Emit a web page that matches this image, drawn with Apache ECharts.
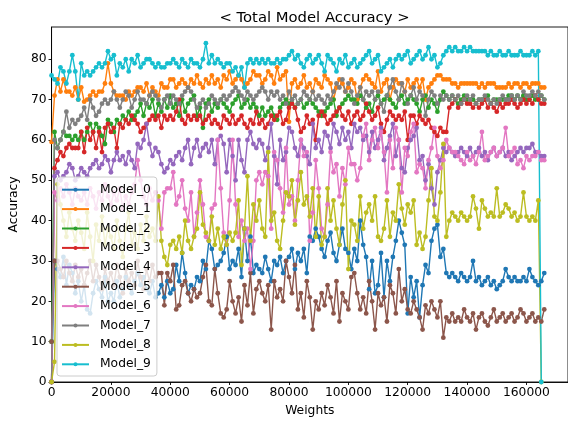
<!DOCTYPE html>
<html>
<head>
<meta charset="utf-8">
<script src="https://cdn.jsdelivr.net/npm/echarts@6/dist/echarts.min.js"></script>
<style>html,body{margin:0;padding:0;background:#fff}#c{width:568px;height:423px}</style>
</head>
<body>
<div id="c"></div>
<script>
const names = ['Model_0','Model_1','Model_2','Model_3','Model_4','Model_5','Model_6','Model_7','Model_8','Model_9'];
const colors = ['#1f77b4','#ff7f0e','#2ca02c','#d62728','#9467bd','#8c564b','#e377c2','#7f7f7f','#bcbd22','#17becf'];
const xTicks = [0,20000,40000,60000,80000,100000,120000,140000,160000];
const yTicks = [0,10,20,30,40,50,60,70,80];
const weightStep = 1000;
const model0 = [
0,30,28,26,31,24,29,27,22,25,
20,24,18,17,22,25,23,21,26,20,
22,20,25,21,23,26,24,22,25,27,
24,26,23,22,25,21,22,24,21,25,
22,23,29,25,32,27,22,24,23,26,
25,30,28,35,33,28,29,30,32,36,
28,30,29,33,26,38,30,36,27,29,
28,27,31,28,25,30,29,31,27,30,
31,33,28,32,30,33,27,36,35,38,
36,33,31,35,37,32,30,34,38,33,
32,28,33,30,40,34,31,23,30,22,
24,32,21,30,25,31,35,40,37,34,
17,26,21,25,16,24,29,27,35,38,
39,31,33,27,26,27,26,25,27,26,
25,26,30,25,26,24,25,26,24,25,
23,24,25,28,26,25,26,25,25,26,
25,28,26,25,24,25,27];
const model1 = [
59.5,71,75,72,75,72,72,71,73,70,
73,69.5,70,71,72,71,72,72,74,79,
74,72,71,71,71,70,72,71,72,73,
73,72,74,71,73,72,71,74,73,73,
75,75,73,74,75,74,73,75,74,76,
74,73,75,74,76,74,75,73,76,75,
77,74,75,76,75,73,74,75,77,76,
76,74,75,77,76,74,78,75,76,77,
64.5,74,75,73,74,76,73,74,72,75,
74,73,76,75,74,70,73,75,74,72,
73,75,74,70,73,75,76,75,74,73,
77,72,74,75,70,73,75,74,74,72,
75,73,74,75,73,75,70,73,74,75,
76,76,75,75,75,74,74,73,74,74,
74,74,74,74,73,74,73,74,74,74,
73,73,73,73,74,73,74,74,73,74,
74,73,74,74,74,73,73];
const model2 = [
10,62,58,60,62,61,61,60,61,60,
62,60,62,64,62,64,63,61,59,65,
64,62,65,64,66,65,67,65,66,67,
69,66,69,68,70,66,69,67,70,68,
71,68,69,66,70,67,69,70,71,66,
68,63,69,70,67,69,68,70,69,68,
67,69,70,71,68,69,70,68,69,68,
66,68,66,67,68,66,65,68,69,70,
69,70,68,69,70,68,69,70,69,68,
67,66,67,68,69,70,66,68,69,70,
71,70,70,69,71,70,68,69,67,70,
71,69,70,71,70,69,68,70,71,69,
70,71,70,69,67,70,71,68,70,69,
67,70,72,71,70,71,70,69,70,71,
70,70,70,69,70,70,70,71,69,70,
70,70,70,70,71,71,70,71,70,71,
70,70,71,70,70,71,70];
const model3 = [
0,53,55,57,56,58,59,58,58,58,
62,57,63,60,62,58,62,57,63,64,
62,63,58,64,63,65,64,66,65,64,
62,63,64,65,66,65,66,63,66,65,
66,65,67,70,65,64,66,65,66,65,
66,64,65,66,64,65,64,63,66,65,
64,66,64,65,66,64,63,65,64,67,
64,65,63,64,66,65,66,67,64,65,
68,69,68,65,62,63,66,64,65,60,
66,67,66,64,65,66,67,68,66,65,
67,64,66,67,65,66,69,67,65,66,
68,64,62,65,67,66,65,66,65,67,
60,66,66,64,66,65,64,65,63,62,
61,63,62,62,68,69,70,68,69,70,
69,69,68,69,68,69,70,68,69,68,
67,69,68,69,69,70,69,68,69,70,
69,70,69,71,70,69,69];
const model4 = [
0,51,52,50,51,52,54,53,50,51,
53,52,51,53,54,55,53,54,56,55,
52,55,57,55,56,54,57,55,53,59,
58,60,64,59,56,58,57,54,52,53,
55,54,56,57,55,58,60,54,58,60,
56,58,59,57,60,54,60,61,59,52,
60,56,50,60,55,52,60,62,59,58,
60,59,55,58,64,56,49,60,55,57,
63,62,58,56,60,58,56,54,64,58,
60,57,62,61,58,64,62,59,63,60,
62,58,64,62,63,60,61,57,62,58,
60,63,55,58,61,64,56,60,53,52,
58,60,61,63,55,56,50,54,48,44,
52,55,58,57,58,57,56,57,58,57,
56,58,56,57,58,56,57,55,57,58,
56,57,58,56,57,55,56,57,58,57,
58,58,59,57,57,56,56];
const model5 = [
10,30,30,28,26,30,27,25,29,26,
28,24,27,30,25,29,26,23,28,25,
27,24,29,26,22,28,25,27,24,30,
26,23,28,25,29,26,27,27,19,27,
25,29,18,19,24,25,22,20,23,21,
22,26,29,20,19,28,22,17,16,18,
25,20,17,21,15,24,19,27,17,23,
25,22,20,24,13,25,21,23,20,30,
26,22,29,18,22,16,25,21,13,20,
18,22,19,24,21,17,25,15,22,20,
18,26,27,22,18,21,17,25,20,13,
22,19,21,15,24,22,17,28,20,23,
18,17,20,18,16,13,19,17,20,18,
16,20,11,16,15,17,15,16,15,18,
16,15,17,13,16,17,15,14,16,18,
15,16,17,15,16,17,15,16,18,17,
15,16,17,15,16,15,18];
const model6 = [
0,47,45,48,46,49,47,44,48,46,
45,47,44,48,46,43,47,45,49,46,
44,47,45,48,43,46,44,47,49,55,
50,46,44,48,45,47,45,38,47,48,
48,52,44,46,50,43,40,47,36,42,
50,44,36,35,43,44,60,48,37,34,
45,60,44,36,40,35,38,28,35,50,
52,49,52,51,38,57,55,48,42,58,
44,46,40,50,60,56,57,35,42,55,
48,38,36,44,57,52,54,46,53,49,
58,54,54,50,53,61,64,55,60,63,
58,62,57,47,60,53,63,60,47,58,
56,62,64,52,54,53,48,55,58,63,
56,53,55,60,58,57,57,56,55,54,
57,55,56,54,57,62,55,56,57,58,
56,57,58,63,56,57,58,54,55,53,
56,55,56,56,57,55,55];
const model7 = [
0,60,58,60,62,67,63,65,64,65,
66,68,65,70,68,66,67,69,70,69,
70,72,70,68,70,72,71,68,70,72,
70,70,69,71,72,71,70,68,70,71,
69,71,70,69,71,72,73,72,70,68,
69,70,68,69,71,70,69,70,71,70,
71,72,73,72,71,70,72,71,70,71,
72,73,72,70,72,71,72,70,71,69,
72,70,71,69,70,72,71,70,72,70,
71,70,69,71,70,72,74,73,75,72,
74,72,69,71,73,70,72,71,72,70,
72,69,67,71,73,75,72,70,74,72,
69,71,73,70,72,71,66,70,72,71,
69,71,70,71,70,71,70,71,69,70,
71,70,71,69,70,70,71,70,69,70,
69,70,71,70,70,71,70,71,70,72,
71,71,72,71,72,71,70];
const model8 = [
0,5,49,44,40,36,42,38,35,40,
37,33,42,36,30,39,35,41,34,38,
36,33,40,35,31,38,42,34,37,33,
39,35,41,36,38,35,46,35,31,29,
34,35,33,36,32,40,35,33,36,38,
47,39,37,35,41,34,38,33,36,34,
37,35,37,45,29,38,51,35,44,40,
45,38,36,57,40,42,35,33,40,47,
46,50,39,45,52,44,46,41,48,36,
46,34,36,48,40,45,38,34,44,50,
28,40,39,35,46,38,42,44,40,46,
36,35,38,45,36,42,40,49,43,39,
44,42,45,34,37,33,36,45,53,41,
40,47,59,36,40,42,41,40,42,41,
40,41,46,43,38,45,43,41,42,41,
48,41,42,44,43,41,42,40,41,47,
41,40,41,40,45,0,null];
const model9 = [
76,75,74,78,77,74,77,81,77,70,
79,76,77,76,77,78,79,78,79,82,
80,81,76,79,78,80,77,80,79,81,
78,79,80,80,79,78,79,78,78,79,
79,80,79,78,80,79,78,80,79,79,
78,80,84,79,81,79,80,79,78,79,
79,77,78,76,78,73,79,80,79,80,
79,80,79,80,79,79,80,79,80,80,
81,82,80,81,79,78,80,81,79,80,
81,79,77,81,80,79,77,80,79,81,
78,79,80,78,79,80,81,82,79,80,
81,77,78,79,80,78,80,81,80,81,
82,79,80,81,82,80,81,83,80,81,
78,79,81,82,83,82,83,82,82,83,
82,83,82,82,82,82,82,81,82,81,
81,82,81,81,82,81,81,81,82,81,
81,81,82,81,82,0,null];
const allModels = [model0,model1,model2,model3,model4,model5,model6,model7,model8,model9];

const FONT = 'DejaVu Sans';
const chart = echarts.init(document.getElementById('c'), null, {renderer:'canvas'});
const series = allModels.map((vals, k) => ({
  name: names[k],
  type: 'line',
  data: vals.map((v, i) => [i * weightStep, v]),
  symbol: 'circle',
  symbolSize: 4.8,
  showSymbol: true,
  connectNulls: false,
  lineStyle: {width: 1.4, color: colors[k]},
  itemStyle: {color: colors[k], borderWidth: 0},
  emphasis: {disabled: true},
  animation: false
}));
chart.setOption({
  animation: false,
  title: {
    text: '< Total Model Accuracy >',
    left: 309.5, top: 6, textAlign: 'center',
    textStyle: {fontFamily: FONT, fontSize: 14.8, fontWeight: 'normal', color: '#000'}
  },
  grid: {left: 51, top: 27, right: -2, bottom: 41, show: true, borderColor: '#000', borderWidth: 0.9, backgroundColor: 'transparent'},
  legend: {
    data: names, orient: 'vertical', left: 57, top: 177,
    backgroundColor: 'rgba(255,255,255,0.8)', borderColor: '#cccccc', borderWidth: 1, borderRadius: 3,
    padding: [3, 6, 2, 4], itemGap: 0, itemWidth: 27, itemHeight: 5,
    textStyle: {fontFamily: FONT, fontSize: 12.3, color: '#000', lineHeight: 19.4, padding: [0, 0, 0, 6]}
  },
  xAxis: {
    type: 'value', min: 0, max: 174000,
    name: 'Weights', nameLocation: 'middle', nameGap: 23,
    nameTextStyle: {fontFamily: FONT, fontSize: 12.3, color: '#000'},
    axisLine: {show: true, onZero: false, lineStyle: {color: '#000', width: 0.9}},
    axisTick: {show: true, length: 3, customValues: xTicks, lineStyle: {color: '#000', width: 0.9}},
    axisLabel: {customValues: xTicks, formatter: v => String(Math.round(v)), fontFamily: FONT, fontSize: 12.3, color: '#000', margin: 5},
    splitLine: {show: false}
  },
  yAxis: {
    type: 'value', min: 0, max: 88,
    name: 'Accuracy', nameLocation: 'middle', nameGap: 30, nameRotate: 90,
    nameTextStyle: {fontFamily: FONT, fontSize: 12.3, color: '#000'},
    axisLine: {show: true, onZero: false, lineStyle: {color: '#000', width: 0.9}},
    axisTick: {show: true, length: 3, customValues: yTicks, lineStyle: {color: '#000', width: 0.9}},
    axisLabel: {customValues: yTicks, formatter: v => String(Math.round(v)), fontFamily: FONT, fontSize: 12.3, color: '#000', margin: 5},
    splitLine: {show: false}
  },
  series: series
});
</script>
</body>
</html>
